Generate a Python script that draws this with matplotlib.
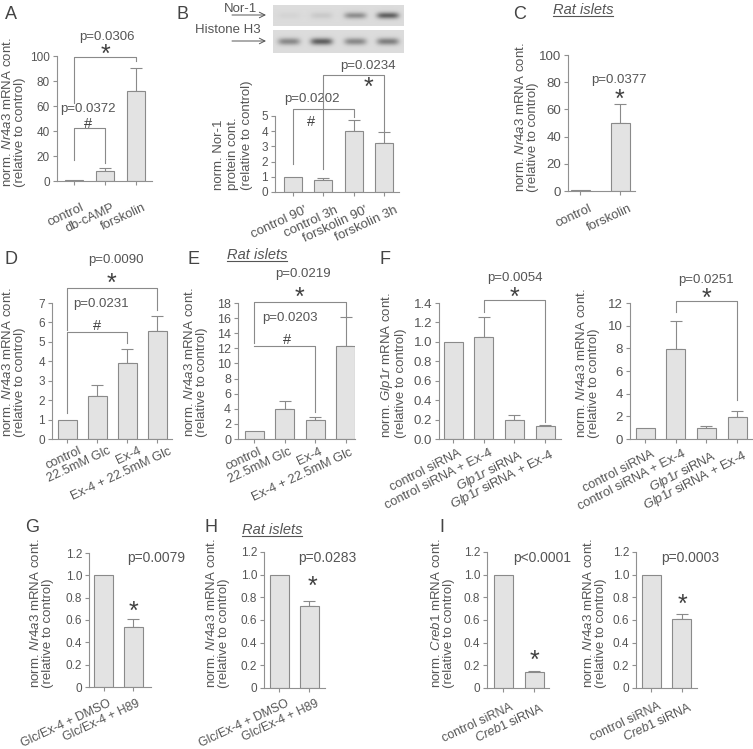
import numpy as np
import matplotlib
matplotlib.use('Agg')
import matplotlib.pyplot as plt
from matplotlib.transforms import ScaledTranslation

plt.rcParams['font.family'] = ['Liberation Sans', 'DejaVu Sans']
plt.rcParams['mathtext.fontset'] = 'custom'
plt.rcParams['mathtext.rm'] = 'Liberation Sans'
plt.rcParams['mathtext.it'] = 'Liberation Sans:italic'
plt.rcParams['mathtext.bf'] = 'Liberation Sans:bold'

# ---------------- data ----------------
a_labels = ['control', 'db-cAMP', 'forskolin']
a_values = [1.0, 8.0, 72.5]
a_errors = [0.0, 2.2, 18.0]

b_labels = ["control 90'", 'control 3h', "forskolin 90'", 'forskolin 3h']
b_values = [1.0, 0.78, 4.02, 3.24]
b_errors = [0.0, 0.13, 0.71, 0.72]
blot_nor1 = [0.03, 0.07, 0.30, 0.48]
blot_h3 = [0.32, 0.48, 0.32, 0.36]

c_labels = ['control', 'forskolin']
c_values = [1.0, 49.8]
c_errors = [0.0, 14.2]

d_labels = ['control', '22.5mM Glc', 'Ex-4', 'Ex-4 + 22.5mM Glc']
d_values = [1.0, 2.23, 3.91, 5.54]
d_errors = [0.0, 0.55, 0.72, 0.77]

e_labels = ['control', '22.5mM Glc', 'Ex-4', 'Ex-4 + 22.5mM Glc']
e_values = [1.06, 3.93, 2.51, 12.3]
e_errors = [0.0, 1.14, 0.45, 3.8]

f1_labels = ['control siRNA', 'control siRNA + Ex-4',
             r'$\it{Glp1r}$ siRNA', r'$\it{Glp1r}$ siRNA + Ex-4']
f1_values = [1.0, 1.05, 0.2, 0.13]
f1_errors = [0.0, 0.205, 0.05, 0.018]

f2_labels = f1_labels
f2_values = [1.0, 7.92, 0.94, 1.91]
f2_errors = [0.0, 2.46, 0.23, 0.58]

g_labels = ['Glc/Ex-4 + DMSO', 'Glc/Ex-4 + H89']
g_values = [1.0, 0.535]
g_errors = [0.0, 0.07]

h_labels = g_labels
h_values = [1.0, 0.72]
h_errors = [0.0, 0.05]

i1_labels = ['control siRNA', r'$\it{Creb1}$ siRNA']
i1_values = [1.0, 0.14]
i1_errors = [0.0, 0.012]

i2_labels = i1_labels
i2_values = [1.0, 0.605]
i2_errors = [0.0, 0.05]

# ---------------- style ----------------
W, H = 753, 749
TXT = '#555555'
AXC = '#909090'
BAR = '#e3e3e3'
EDGE = '#8a8a8a'
LW = 0.8

fig = plt.figure(figsize=(W / 100, H / 100), dpi=100)


def bar_panel(L, R, top, bottom, c0, s, w, ymax, yticks, ytl, labels, values,
              errors, ysize=8.5, xsize=9, lab=(6, 10), rot=25):
    ax = fig.add_axes([L / W, 1 - bottom / H, (R - L) / W, (bottom - top) / H])
    ax.patch.set_alpha(0)
    x = np.arange(len(values))
    ax.set_xlim((L - c0) / s, (R - c0) / s)
    ax.set_ylim(0, ymax)
    ax.bar(x, values, width=w / s, color=BAR, edgecolor=EDGE, linewidth=LW, zorder=2)
    v = np.asarray(values, float)
    e = np.asarray(errors, float)
    m = e > 0
    ax.errorbar(x[m], v[m], yerr=[np.zeros(m.sum()), e[m]], fmt='none',
                ecolor=EDGE, elinewidth=LW, capsize=4, capthick=LW, zorder=1)
    for sp in ['top', 'right']:
        ax.spines[sp].set_visible(False)
    for sp in ['left', 'bottom']:
        ax.spines[sp].set_color(AXC)
        ax.spines[sp].set_linewidth(LW)
    ax.set_yticks(yticks)
    ax.set_yticklabels(ytl)
    ax.set_xticks(x)
    ax.tick_params(axis='both', direction='out', length=3, width=LW, color=AXC,
                   labelcolor=TXT)
    ax.tick_params(axis='y', labelsize=ysize, pad=2)
    ax.tick_params(axis='x', pad=0)
    ax.set_xticklabels(labels, rotation=rot, ha='right', va='top',
                       rotation_mode='anchor', fontsize=xsize, color=TXT)
    off = ScaledTranslation(lab[0] / 100, -(lab[1] - 3) / 100, fig.dpi_scale_trans)
    for t in ax.xaxis.get_major_ticks():
        t.label1.set_transform(t.label1.get_transform() + off)
    return ax


def bracket(ax, x1, x2, ytop, y1, y2):
    ax.plot([x1, x1, x2, x2], [y1, ytop, ytop, y2], color=EDGE, lw=LW,
            clip_on=False, zorder=3)


def star(ax, x, y, fs=18):
    ax.annotate('*', (x, y), xytext=(0, -0.6 * fs + 2.2), textcoords='offset points',
                ha='center', va='baseline', fontsize=fs, color='#404040',
                annotation_clip=False)


def hashm(ax, x, y, fs=10.5):
    ax.annotate('#', (x, y), xytext=(0, -0.36 * fs), textcoords='offset points',
                ha='center', va='baseline', fontsize=fs, color='#404040',
                annotation_clip=False)


def ptext(ax, x, y, s, fs=9.5):
    ax.text(x, y, s, ha='center', va='center', fontsize=fs, color=TXT,
            clip_on=False)


# ---------------- panel A ----------------
ax = bar_panel(57, 152, 56.5, 181, 74, 31, 18, 100, [0, 20, 40, 60, 80, 100],
               ['0', '20', '40', '60', '80', '100'], a_labels, a_values, a_errors,
               lab=(7, 19), xsize=9.3)
bracket(ax, 0, 2, 99.5, 62.5, 96)
star(ax, 1.03, 105.4)
ptext(ax, 1.05, 115.5, 'p=0.0306')
bracket(ax, 0, 1, 42.4, 16.9, 14.2)
hashm(ax, 0.46, 46.9)
ptext(ax, 0.46, 57.6, 'p=0.0372')

# ---------------- panel B ----------------
ax = bar_panel(275, 399, 116, 192, 293, 30.3, 18, 5, [0, 1, 2, 3, 4, 5],
               ['0', '1', '2', '3', '4', '5'], b_labels, b_values, b_errors,
               lab=(11, 11), xsize=9.5)
bracket(ax, 0, 2, 5.44, 1.84, 4.96)
hashm(ax, 0.6, 4.69)
ptext(ax, 0.62, 6.13, 'p=0.0202')
bracket(ax, 1, 3, 7.67, 1.51, 4.0)
star(ax, 2.49, 7.18)
ptext(ax, 2.46, 8.29, 'p=0.0234')


def blot(px0, px1, py0, py1, lanes):
    bax = fig.add_axes([px0 / W, 1 - py1 / H, (px1 - px0) / W, (py1 - py0) / H])
    nx, ny = 131, 23
    xx = np.linspace(0, 1, nx)[None, :]
    yy = np.linspace(0, 1, ny)[:, None]
    img = np.full((ny, nx), 0.86)
    for c, inten in zip([0.12, 0.37, 0.63, 0.88], lanes):
        img -= inten * np.exp(-((xx - c) / 0.085) ** 4) * np.exp(-((yy - 0.5) / 0.16) ** 2)
    bax.imshow(img, cmap='gray', vmin=0, vmax=1, aspect='auto',
               interpolation='bilinear')
    bax.axis('off')


blot(273, 404, 5, 26, blot_nor1)
blot(273, 404, 30, 53, blot_h3)

# ---------------- panel C ----------------
ax = bar_panel(568, 635, 55, 191, 580, 40, 19, 100, [0, 20, 40, 60, 80, 100],
               ['0', '20', '40', '60', '80', '100'], c_labels, c_values, c_errors,
               ysize=9.5, lab=(9, 10), xsize=9.3)
star(ax, 0.98, 70.6)
ptext(ax, 0.98, 81.6, 'p=0.0377')

# ---------------- panel D ----------------
ax = bar_panel(52, 172, 303, 439, 67, 30, 19, 7, list(range(8)),
               [str(i) for i in range(8)], d_labels, d_values, d_errors,
               lab=(11, 5), xsize=9.2)
bracket(ax, 0, 3, 7.77, 5.63, 6.66)
star(ax, 1.49, 8.23)
ptext(ax, 1.62, 9.19, 'p=0.0090')
bracket(ax, 0, 2, 5.49, 1.34, 4.94)
hashm(ax, 1.01, 5.88)
ptext(ax, 1.14, 6.96, 'p=0.0231')

# ---------------- panel E ----------------
ax = bar_panel(238, 355, 303, 439, 254, 30.6, 19, 18, list(range(0, 19, 2)),
               [str(i) for i in range(0, 19, 2)], e_labels, e_values, e_errors,
               ysize=9, lab=(4, 6), xsize=9.2)
bracket(ax, 0, 3, 18.17, 12.66, 16.2)
star(ax, 1.48, 19.35)
ptext(ax, 1.61, 21.9, 'p=0.0219')
bracket(ax, 0, 2, 12.3, 12.3, 3.62)
hashm(ax, 1.07, 13.3)
ptext(ax, 1.18, 15.97, 'p=0.0203')

# ---------------- panel F ----------------
ft = [0, 0.2, 0.4, 0.6, 0.8, 1.0, 1.2, 1.4]
ax = bar_panel(439, 561, 303, 439, 453, 30.7, 19, 1.4, ft,
               ['%.1f' % t for t in ft], f1_labels, f1_values, f1_errors,
               ysize=9.5, lab=(5, 7), rot=27, xsize=9.3)
bracket(ax, 1, 3, 1.434, 1.31, 0.18)
star(ax, 1.99, 1.50)
ptext(ax, 2.01, 1.66, 'p=0.0054')

ax = bar_panel(630, 752, 303, 439, 645, 30.7, 19, 12, list(range(0, 13, 2)),
               [str(i) for i in range(0, 13, 2)], f2_labels, f2_values, f2_errors,
               ysize=9.5, lab=(6, 8), rot=27, xsize=9.3)
bracket(ax, 1, 3, 12.17, 11.2, 3.43)
star(ax, 2.01, 12.8)
ptext(ax, 2.0, 14.05, 'p=0.0251')

# ---------------- panels G, H, I ----------------
gt = [0, 0.2, 0.4, 0.6, 0.8, 1.0, 1.2]
gtl = ['0', '0.2', '0.4', '0.6', '0.8', '1.0', '1.2']
ax = bar_panel(89, 151, 553, 687, 103.5, 29.5, 19, 1.2, gt, gtl,
               g_labels, g_values, g_errors, lab=(4, 9), xsize=8.8)
star(ax, 1.01, 0.72)
ptext(ax, 1.78, 1.152, 'p=0.0079', fs=10)

ax = bar_panel(264, 325, 552, 688, 279, 30, 19, 1.2, gt, gtl,
               h_labels, h_values, h_errors, lab=(7, 8), xsize=8.8)
star(ax, 1.12, 0.94)
ptext(ax, 1.61, 1.15, 'p=0.0283', fs=10)

ax = bar_panel(487, 549, 552, 688, 503, 31, 19, 1.2, gt, gtl,
               i1_labels, i1_values, i1_errors, lab=(7, 12), xsize=9)
star(ax, 1.0, 0.28)
ptext(ax, 1.26, 1.15, 'p<0.0001', fs=10)

ax = bar_panel(636, 697, 552, 688, 651, 30.7, 19, 1.2, gt, gtl,
               i2_labels, i2_values, i2_errors, lab=(7, 11), xsize=9)
star(ax, 1.02, 0.78)
ptext(ax, 1.27, 1.15, 'p=0.0003', fs=10)

# ---------------- overlay: letters, labels ----------------
ov = fig.add_axes([0, 0, 1, 1])
ov.set_xlim(0, W)
ov.set_ylim(H, 0)
ov.axis('off')

for letter, lx, ly in [('A', 5, 6), ('B', 177, 6), ('C', 513, 6), ('D', 5, 251),
                       ('E', 188, 251), ('F', 380, 251), ('G', 25, 519),
                       ('H', 205, 519), ('I', 439, 519)]:
    ov.text(lx, ly, letter, fontsize=13, color='#444444', ha='left', va='top')

NR = 'norm. $\\it{Nr4a3}$ mRNA cont.\n(relative to control)'
for xc, yb, txt in [(14, 187, NR), (527, 192, NR), (14, 437, NR), (196, 437, NR),
                    (393, 438, 'norm. $\\it{Glp1r}$ mRNA cont.\n(relative to control)'),
                    (588, 438, NR), (42, 688, NR), (218, 688, NR),
                    (443, 688, 'norm. $\\it{Creb1}$ mRNA cont.\n(relative to control)'),
                    (595, 688, NR)]:
    ov.text(xc, yb, txt, rotation=90, ha='center', va='bottom',
            multialignment='left', fontsize=9.5, color=TXT, linespacing=1.0)
ov.text(233, 190, 'norm. Nor-1\nprotein cont.\n(relative to control)', rotation=90,
        ha='center', va='bottom', multialignment='left', fontsize=9.5, color=TXT,
        linespacing=1.25)

# blot labels
ov.text(241, 9, 'Nor-1', ha='center', va='center', fontsize=9.5, color=TXT)
ov.text(228, 30, 'Histone H3', ha='center', va='center', fontsize=9.5, color=TXT)
for yy in [15, 41]:
    ov.annotate('', xy=(266, yy), xytext=(232, yy),
                arrowprops=dict(arrowstyle='->', color=TXT, lw=0.7,
                                shrinkA=0, shrinkB=0))

# Rat islets (italic, underlined)
rat = []
for rx, ry in [(553, 3), (227, 248), (242, 523)]:
    t = ov.text(rx, ry, 'Rat islets', style='italic', fontsize=10.5, color=TXT,
                ha='left', va='top')
    rat.append(t)
fig.canvas.draw()
inv = ov.transData.inverted()
for t in rat:
    bb = t.get_window_extent()
    (x0, y0), (x1, y1) = inv.transform([[bb.x0, bb.y0], [bb.x1, bb.y1]])
    ov.plot([x0, x1], [y0 - 1, y0 - 1], color=TXT, lw=0.8)

fig.savefig('out.png', dpi=100)
